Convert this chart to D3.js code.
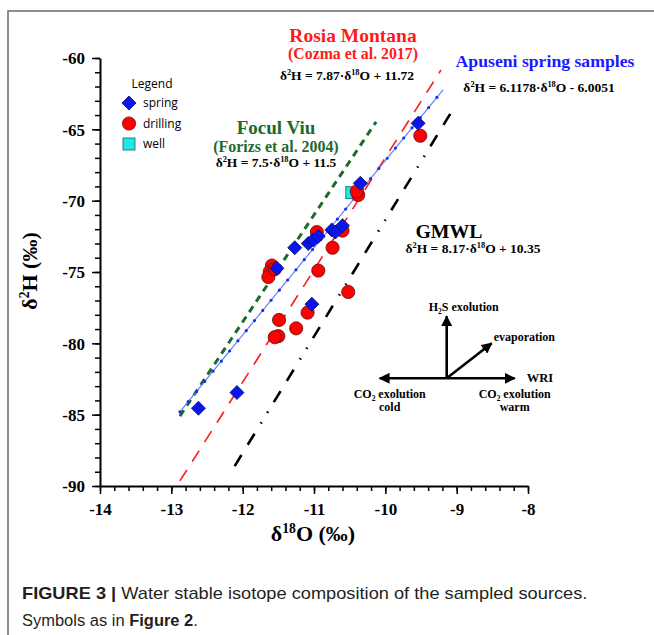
<!DOCTYPE html>
<html>
<head>
<meta charset="utf-8">
<script src="https://cdn.jsdelivr.net/npm/d3@7"></script>
<style>
  body { margin: 0; background: #fff; }
  text { font-family: "Liberation Serif", "Times New Roman", serif; font-weight: bold; }
</style>
</head>
<body>
<div id="chart"></div>
<script>
// values (δ18O, δ2H in permil)
const springO = [-12.62, -12.08, -11.52, -11.27, -11.08, -11.01, -10.94, -10.75, -10.70, -10.60, -11.03, -10.35, -9.54];
const springH = [-84.55, -83.45, -74.74, -73.30, -73.00, -72.75, -72.50, -72.05, -72.20, -71.75, -77.26, -68.78, -64.58];

const drillingO = [-9.51, -10.38, -10.40, -10.60, -10.96, -10.74, -10.94, -10.52, -11.59, -11.62, -11.64, -11.55, -11.09, -11.49, -11.25, -11.50, -11.55];
const drillingH = [-65.45, -69.60, -69.35, -72.10, -72.20, -73.30, -74.90, -76.40, -74.55, -74.97, -75.35, -74.80, -77.85, -78.36, -78.95, -79.50, -79.57];

const wellO = [-10.47];
const wellH = [-69.44];

// meteoric water lines: d2H = slope * d18O + intercept, drawn between two d18O values
const lineNames = ["Focul Viu", "Rosia Montana", "Apuseni", "GMWL"];
const lineSlopes = [7.5, 7.87, 6.1178, 8.17];
const lineIntercepts = [11.5, 11.72, -6.0051, 10.35];
const lineStart = [-12.88, -12.88, -12.88, -12.15];
const lineEnd = [-10.13, -9.22, -9.19, -9.09];

const xTicks = [-14, -13, -12, -11, -10, -9, -8];
const yTicks = [-90, -85, -80, -75, -70, -65, -60];

const width = 654;
const height = 635;

const svg = d3.select('#chart').append('svg')
  .attr('width', width)
  .attr('height', height)
  .style('background', '#fff');

// outer frame of the figure page (top and left only)
svg.append('path')
  .attr('d', 'M8,635 L8,11 L654,11')
  .attr('fill', 'none')
  .attr('stroke', '#6a6a6a')
  .attr('stroke-width', 1.5);

const x = d3.scaleLinear().domain([-14, -8]).range([100, 528]);
const y = d3.scaleLinear().domain([-90, -60]).range([486, 58]);

// minor ticks first, then the labelled axis on top
svg.append('g')
  .attr('transform', 'translate(0,486)')
  .call(d3.axisBottom(x).tickValues(d3.range(-14, -7.99, 0.2)).tickSize(5).tickFormat(''))
  .call(g => g.select('.domain').remove())
  .selectAll('line').attr('stroke', '#000').attr('stroke-width', 1.5);

svg.append('g')
  .attr('transform', 'translate(100,0)')
  .call(d3.axisLeft(y).tickValues(d3.range(-90, -59, 1)).tickSize(5).tickFormat(''))
  .call(g => g.select('.domain').remove())
  .selectAll('line').attr('stroke', '#000').attr('stroke-width', 1.5);

const plainNum = d => String(d);   // hyphen minus as in the figure

const xAxis = svg.append('g')
  .attr('transform', 'translate(0,486)')
  .call(d3.axisBottom(x).tickValues(xTicks).tickFormat(plainNum).tickSize(8).tickSizeOuter(0).tickPadding(9));

const yAxis = svg.append('g')
  .attr('transform', 'translate(100,0)')
  .call(d3.axisLeft(y).tickValues(yTicks).tickFormat(plainNum).tickSize(8).tickSizeOuter(0).tickPadding(7));

[xAxis, yAxis].forEach(a => {
  a.select('.domain').attr('stroke', '#000').attr('stroke-width', 2);
  a.selectAll('line').attr('stroke', '#000').attr('stroke-width', 1.5);
  a.selectAll('text')
    .attr('fill', '#000')
    .style('font-family', '"Liberation Serif", serif')
    .style('font-weight', 'bold')
    .style('font-size', '17px');
});
yAxis.selectAll('text').attr('dy', '0.35em');

// helper for text with super/subscripts
function rich(parent, px, py, parts, size, color, anchor) {
  const t = parent.append('text')
    .attr('x', px).attr('y', py)
    .attr('fill', color || '#000')
    .attr('text-anchor', anchor || 'middle')
    .style('font-size', size + 'px');
  let shift = 0;
  parts.forEach(p => {
    const s = typeof p === 'string' ? [p, ''] : p;
    let target = 0;
    let fs = size;
    if (s[1] === 'sup') { target = -0.38 * size; fs = size * 0.62; }
    if (s[1] === 'sub') { target = 0.22 * size; fs = size * 0.62; }
    t.append('tspan')
      .attr('dy', target - shift)
      .style('font-size', fs + 'px')
      .text(s[0]);
    shift = target;
  });
  return t;
}

// water lines
const lineStyles = [
  { color: '#1b6b2b', width: 3, dash: '7,5.5' },
  { color: '#ff1a1a', width: 1.6, dash: '13,10' },
  { color: '#5a78ff', width: 1.1, dash: null },
  { color: '#000', width: 2.6, dash: '13,12,13,11,1.5,11,1.5,12' }
];

const lineGen = d3.line().x(d => x(d[0])).y(d => y(d[1]));

lineNames.forEach((name, i) => {
  const pts = [lineStart[i], lineEnd[i]].map(o => [o, lineSlopes[i] * o + lineIntercepts[i]]);
  const st = lineStyles[i];
  // GMWL dash pattern runs from the upper end
  const drawPts = i === 3 ? pts.slice().reverse() : pts;
  svg.append('path')
    .datum(drawPts)
    .attr('d', lineGen)
    .attr('fill', 'none')
    .attr('stroke', st.color)
    .attr('stroke-width', st.width)
    .attr('stroke-dasharray', st.dash);
  if (name === 'Apuseni') {
    // small dot markers along the regression line
    svg.append('path')
      .datum(pts)
      .attr('d', lineGen)
      .attr('fill', 'none')
      .attr('stroke', '#1a2ee6')
      .attr('stroke-width', 3.2)
      .attr('stroke-linecap', 'round')
      .attr('stroke-dasharray', '0,13.1');
  }
});

// data points
const diamond = d3.symbol().type(d3.symbolDiamond2).size(125);

svg.append('g').selectAll('rect')
  .data(wellO.map((o, i) => [o, wellH[i]]))
  .enter().append('rect')
    .attr('x', d => x(d[0]) - 6)
    .attr('y', d => y(d[1]) - 6)
    .attr('width', 12)
    .attr('height', 12)
    .attr('fill', '#1ee8e8')
    .attr('stroke', '#1c5a5a')
    .attr('stroke-width', 0.8);

svg.append('g').selectAll('circle')
  .data(drillingO.map((o, i) => [o, drillingH[i]]))
  .enter().append('circle')
    .attr('cx', d => x(d[0]))
    .attr('cy', d => y(d[1]))
    .attr('r', 6.6)
    .attr('fill', '#ff0000')
    .attr('stroke', '#5a1010')
    .attr('stroke-width', 0.8);

svg.append('g').selectAll('path')
  .data(springO.map((o, i) => [o, springH[i]]))
  .enter().append('path')
    .attr('d', diamond)
    .attr('transform', d => 'translate(' + x(d[0]) + ',' + y(d[1]) + ')')
    .attr('fill', '#0a14f0')
    .attr('stroke', '#0a0a50')
    .attr('stroke-width', 0.8);

// legend
const leg = svg.append('g');
leg.append('text').attr('x', 152).attr('y', 88).attr('text-anchor', 'middle')
  .style('font-family', '"Open Sans", sans-serif').style('font-weight', 'normal').style('font-size', '12px')
  .text('Legend');
leg.append('path').attr('d', diamond).attr('transform', 'translate(129,103)')
  .attr('fill', '#0a14f0').attr('stroke', '#0a0a50').attr('stroke-width', 0.8);
leg.append('circle').attr('cx', 129).attr('cy', 123.5).attr('r', 6.6)
  .attr('fill', '#ff0000').attr('stroke', '#5a1010').attr('stroke-width', 0.8);
leg.append('rect').attr('x', 123).attr('y', 138).attr('width', 12).attr('height', 12)
  .attr('fill', '#1ee8e8').attr('stroke', '#1c5a5a').attr('stroke-width', 0.8);
[['spring', 107], ['drilling', 127.5], ['well', 148]].forEach(d => {
  leg.append('text').attr('x', 143).attr('y', d[1])
    .style('font-family', '"Open Sans", sans-serif').style('font-weight', 'normal').style('font-size', '12px')
    .text(d[0]);
});

// line annotations
svg.append('text').attr('x', 353).attr('y', 42).attr('text-anchor', 'middle')
  .attr('fill', '#ff1a1a').style('font-size', '19.5px').text('Rosia Montana');
svg.append('text').attr('x', 353).attr('y', 59).attr('text-anchor', 'middle')
  .attr('fill', '#ff1a1a').style('font-size', '15.8px').text('(Cozma et al. 2017)');
rich(svg, 347, 80, ['δ', ['2', 'sup'], 'H = 7.87·δ', ['18', 'sup'], 'O + 11.72'], 13.5);

svg.append('text').attr('x', 545).attr('y', 67).attr('text-anchor', 'middle')
  .attr('fill', '#1a1aff').style('font-size', '17.7px').text('Apuseni spring samples');
rich(svg, 539, 92, ['δ', ['2', 'sup'], 'H = 6.1178·δ', ['18', 'sup'], 'O - 6.0051'], 13.5);

svg.append('text').attr('x', 276).attr('y', 134).attr('text-anchor', 'middle')
  .attr('fill', '#1b6b2b').style('font-size', '19px').text('Focul Viu');
svg.append('text').attr('x', 276).attr('y', 152).attr('text-anchor', 'middle')
  .attr('fill', '#1b6b2b').style('font-size', '15.9px').text('(Forizs et al. 2004)');
rich(svg, 276, 167, ['δ', ['2', 'sup'], 'H = 7.5·δ', ['18', 'sup'], 'O + 11.5'], 13.5);

svg.append('text').attr('x', 449).attr('y', 238).attr('text-anchor', 'middle')
  .style('font-size', '19.8px').text('GMWL');
rich(svg, 473, 253, ['δ', ['2', 'sup'], 'H = 8.17·δ', ['18', 'sup'], 'O + 10.35'], 13.5);

// process arrows diagram
const defs = svg.append('defs');
defs.append('marker')
  .attr('id', 'head')
  .attr('viewBox', '0 0 10 10')
  .attr('refX', 9).attr('refY', 5)
  .attr('markerWidth', 11).attr('markerHeight', 11)
  .attr('markerUnits', 'userSpaceOnUse')
  .attr('orient', 'auto')
  .append('path').attr('d', 'M0,0 L10,5 L0,10 Z').attr('fill', '#000');

const ox = x(-9.14), oy = y(-82.45);
[[0, -62], [-67, 0], [68, 0], [45, -35]].forEach(d => {
  svg.append('line')
    .attr('x1', ox).attr('y1', oy)
    .attr('x2', ox + d[0]).attr('y2', oy + d[1])
    .attr('stroke', '#000').attr('stroke-width', 2.6)
    .attr('marker-end', 'url(#head)');
});
rich(svg, ox + 17, oy - 67, ['H', ['2', 'sub'], 'S exolution'], 12);
rich(svg, ox + 47, oy - 37, ['evaporation'], 12, '#000', 'start');
rich(svg, ox + 80, oy + 4, ['WRI'], 12.5, '#000', 'start');
rich(svg, ox - 57, oy + 20, ['CO', ['2', 'sub'], ' exolution'], 12);
rich(svg, ox - 57, oy + 33, ['cold'], 12);
rich(svg, ox + 68, oy + 20, ['CO', ['2', 'sub'], ' exolution'], 12);
rich(svg, ox + 68, oy + 33, ['warm'], 12);

// axis titles
rich(svg, 313, 541, ['δ', ['18', 'sup'], 'O (‰)'], 22);
rich(svg, 0, 0, ['δ', ['2', 'sup'], 'H (‰)'], 22)
  .attr('transform', 'translate(37,271) rotate(-90)');

// caption, condensed horizontally to the figure's narrow typeface
function captionLine(py, parts, targetWidth) {
  const t = svg.append('text')
    .attr('x', 0).attr('y', 0)
    .attr('fill', '#231f20')
    .style('font-family', '"Liberation Sans", Arial, sans-serif')
    .style('font-weight', 'normal')
    .style('font-size', '17px');
  parts.forEach(p => {
    t.append('tspan').style('font-weight', p[1] ? 'bold' : 'normal').text(p[0]);
  });
  const w = t.node().getComputedTextLength();
  t.attr('transform', 'translate(22,' + py + ') scale(' + (targetWidth / w) + ',1)');
}
captionLine(599, [['FIGURE 3 | ', true], ['Water stable isotope composition of the sampled sources.', false]], 566);
captionLine(626, [['Symbols as in ', false], ['Figure 2', true], ['.', false]], 176);
</script>
</body>
</html>
